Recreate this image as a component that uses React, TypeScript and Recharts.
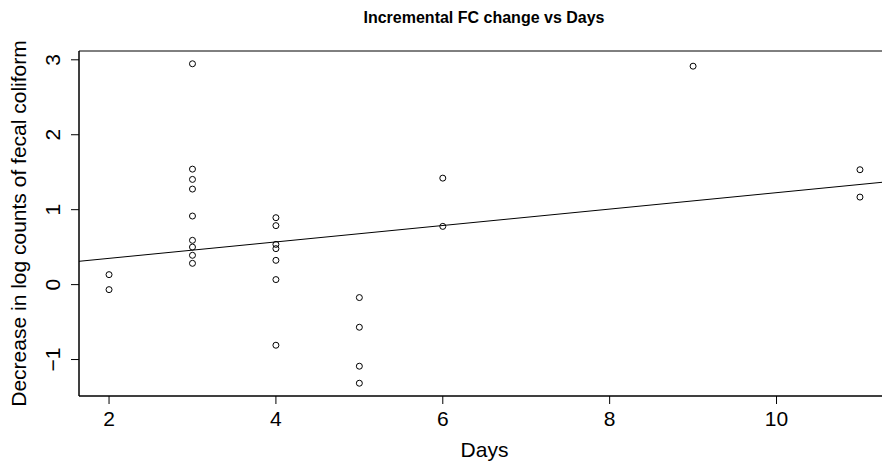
import React from 'react';
import {
  ComposedChart,
  Scatter,
  XAxis,
  YAxis,
  ReferenceArea,
} from 'recharts';

// observed points
const days = [2, 2, 3, 3, 3, 3, 3, 3, 3, 3, 3, 4, 4, 4, 4, 4, 4, 4, 5, 5, 5, 5, 6, 6, 9, 11, 11];
const decrease = [
  0.133, -0.067,
  2.947, 1.541, 1.404, 1.275, 0.915, 0.591, 0.501, 0.391, 0.284,
  0.893, 0.787, 0.537, 0.48, 0.324, 0.067, -0.809,
  -0.173, -0.569, -1.089, -1.316,
  1.421, 0.777,
  2.915,
  1.533, 1.168,
];

// fitted regression line, end points at the plot edges
const fitDays = [1.64, 11.36];
const fitValues = [0.311, 1.376];

const xTicks = [2, 4, 6, 8, 10];
const yTicks = [-1, 0, 1, 2, 3];
const xDomain = [1.64, 11.36];
const yDomain = [-1.4865, 3.1175];

const FONT = '"Liberation Sans", Arial, Helvetica, sans-serif';

const points = days.map((d, i) => ({ x: d, y: decrease[i] }));
const fitData = fitDays.map((d, i) => ({ x: d, y: fitValues[i] }));

const fmt = (v: number) => (v < 0 ? `\u2212${Math.abs(v)}` : `${v}`);

function XTick({ x, y, payload }: any) {
  return (
    <text x={x} y={y + 20} textAnchor="middle" fontSize={21} fontFamily={FONT} fill="#000">
      {fmt(payload.value)}
    </text>
  );
}

function YTick({ x, y, payload }: any) {
  const bx = x - 9;
  return (
    <text
      x={bx}
      y={y}
      transform={`rotate(-90, ${bx}, ${y})`}
      textAnchor="middle"
      fontSize={21}
      fontFamily={FONT}
      fill="#000"
    >
      {fmt(payload.value)}
    </text>
  );
}

function YLabel({ viewBox }: any) {
  const cx = 26;
  const cy = viewBox.y + viewBox.height / 2;
  return (
    <text
      x={cx}
      y={cy}
      transform={`rotate(-90, ${cx}, ${cy})`}
      textAnchor="middle"
      fontSize={21}
      fontFamily={FONT}
      fill="#000"
    >
      Decrease in log counts of fecal coliform
    </text>
  );
}

function XLabel({ viewBox }: any) {
  return (
    <text
      x={viewBox.x + viewBox.width / 2}
      y={457}
      textAnchor="middle"
      fontSize={21}
      fontFamily={FONT}
      fill="#000"
    >
      Days
    </text>
  );
}

const OpenCircle = (props: any) => (
  <circle cx={props.cx} cy={props.cy} r={3} fill="none" stroke="#000" strokeWidth={1} />
);

export default function App() {
  return (
    <div
      style={{
        position: 'absolute',
        left: 0,
        top: 0,
        width: 882,
        height: 469,
        overflow: 'hidden',
        background: '#fff',
      }}
    >
      <svg width={882} height={40} style={{ position: 'absolute', left: 0, top: 0 }}>
        <text x={484} y={23} textAnchor="middle" fontSize={16} fontWeight="bold" fontFamily={FONT} fill="#000">
          Incremental FC change vs Days
        </text>
      </svg>
      <ComposedChart
        width={890}
        height={469}
        margin={{ top: 51, right: 0, left: 0, bottom: 0 }}
        style={{ position: 'absolute', left: 0, top: 0 }}
      >
        <XAxis
          type="number"
          dataKey="x"
          domain={xDomain}
          ticks={xTicks}
          allowDataOverflow
          height={73}
          tickSize={8}
          tick={<XTick />}
          axisLine={{ stroke: '#000' }}
          tickLine={{ stroke: '#000' }}
          label={{ content: <XLabel /> }}
        />
        <YAxis
          type="number"
          dataKey="y"
          domain={yDomain}
          ticks={yTicks}
          allowDataOverflow
          width={79}
          tickSize={8}
          tick={<YTick />}
          axisLine={{ stroke: '#000' }}
          tickLine={{ stroke: '#000' }}
          label={{ content: <YLabel /> }}
        />
        <ReferenceArea
          x1={xDomain[0]}
          x2={xDomain[1]}
          y1={yDomain[0]}
          y2={yDomain[1]}
          fill="none"
          stroke="#000"
          strokeWidth={1}
          fillOpacity={0}
        />
        <Scatter
          data={fitData}
          dataKey="y"
          line={{ stroke: '#000', strokeWidth: 1 }}
          shape={() => <g />}
          isAnimationActive={false}
        />
        <Scatter data={points} dataKey="y" shape={<OpenCircle />} isAnimationActive={false} />
      </ComposedChart>
    </div>
  );
}
